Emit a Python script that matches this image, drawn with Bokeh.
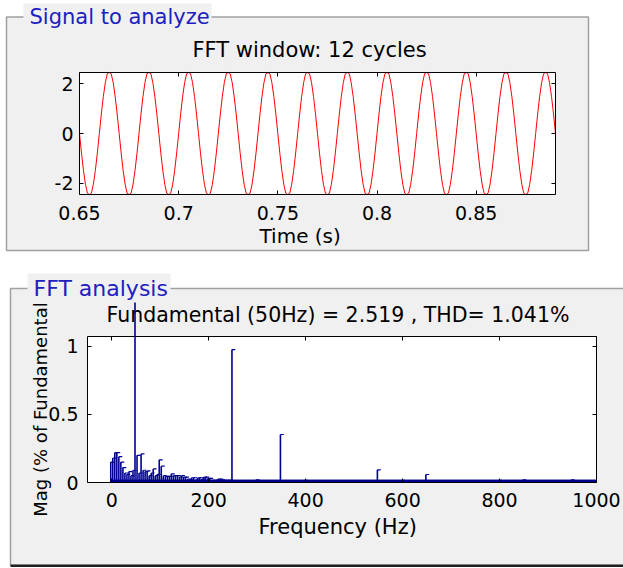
import math
from bokeh.plotting import figure
from bokeh.models import (LinearAxis, FixedTicker, Range1d, Label, BoxAnnotation,
                          ColumnDataSource, PrintfTickFormatter)
from bokeh.layouts import column
from bokeh.embed import file_html
from bokeh.resources import INLINE

# ---------------- data ----------------
# one cycle of the analysed signal, 20 samples (1 ms apart)
signal_cycle = [0.0, -0.78, -1.48, -2.04, -2.40, -2.52, -2.40, -2.04, -1.48, -0.78,
                0.0, 0.78, 1.48, 2.04, 2.40, 2.52, 2.40, 2.04, 1.48, 0.78]
n_cycles = 12
t_start = 0.65
t_step = 0.001
time_lim = (0.65, 0.89)
signal_lim = (-2.45, 2.45)
time_ticks = [0.65, 0.7, 0.75, 0.8, 0.85]
signal_ticks = [-2, 0, 2]

# FFT bins (resolution 50/12 Hz) from 0 Hz to ~246 Hz, % of fundamental
bin_step = 50.0 / 12.0
low_bin_mags = [0.15, 0.18, 0.22, 0.22, 0.19, 0.15, 0.11, 0.07, 0.06, 0.08,
                0.05, 0.09, 100.0, 0.20, 0.07, 0.21, 0.09, 0.08, 0.085, 0.05,
                0.07, 0.10, 0.05, 0.06, 0.167, 0.12, 0.05, 0.045, 0.045, 0.045,
                0.064, 0.05, 0.05, 0.05, 0.04, 0.05, 0.04, 0.04, 0.025, 0.02,
                0.035, 0.035, 0.02, 0.035, 0.035, 0.025, 0.04, 0.04, 0.03, 0.03,
                0.015, 0.015, 0.015, 0.025, 0.025, 0.02, 0.015, 0.015, 0.015, 0.015]
harm_freqs = [250, 300, 350, 400, 550, 600, 650, 800, 850, 950]
harm_mags = [0.977, 0.02, 0.353, 0.015, 0.093, 0.015, 0.059, 0.015, 0.02, 0.02]
fund_freq = 50
noise_floor = 0.018
freq_lim = (-50, 1000)
mag_lim = (0, 1.0735)
freq_ticks = [0, 200, 400, 600, 800, 1000]
mag_ticks = [0, 0.5, 1]

group_top = "Signal to analyze"
group_bottom = "FFT analysis"
title_top = "FFT window: 12 cycles"
title_bottom = "Fundamental (50Hz) = 2.519 , THD= 1.041%"
xlabel_top = "Time (s)"
xlabel_bottom = "Frequency (Hz)"
ylabel_bottom = "Mag (% of Fundamental"

# ---------------- styling ----------------
W = 623
H1, H2 = 268, 300
FONT = "DejaVu Sans"
GRAY = "#f0f0f0"
EDGE = "#a0a0a0"
BLUE_TXT = "#2020c0"
BAR = "#00008f"
TICK_FS = "19px"
TXT_FS = "20px"
TITLE_FS = "21px"
GRP_FS = "21px"
DY = -7  # baseline correction for labels


class Mapper:
    """pixel <-> data for a figure whose frame is the whole canvas."""
    def __init__(self, box_px, xr, yr):
        self.fl, self.fr, self.ft, self.fb = box_px
        self.xr, self.yr = xr, yr

    def x(self, px):
        x0, x1 = self.xr
        return x0 + (px - self.fl) * (x1 - x0) / (self.fr - self.fl)

    def y(self, py):
        y0, y1 = self.yr
        return y0 + (self.fb - py) * (y1 - y0) / (self.fb - self.ft)


def make_fig(h, m):
    p = figure(width=W, height=h,
               x_range=Range1d(m.x(0), m.x(W)), y_range=Range1d(m.y(h), m.y(0)),
               x_axis_type=None, y_axis_type=None,
               min_border=0, output_backend="svg", toolbar_location=None, tools="")
    p.border_fill_color = "white"
    p.background_fill_color = "white"
    p.outline_line_color = None
    p.xgrid.visible = False
    p.ygrid.visible = False
    return p


def add_axis(p, side, ticks, loc, bounds, standoff, show_labels):
    ax = LinearAxis(fixed_location=loc, bounds=bounds)
    ax.ticker = FixedTicker(ticks=ticks)
    ax.formatter = PrintfTickFormatter(format="%g")
    ax.major_tick_in = 4
    ax.major_tick_out = 0
    ax.minor_tick_line_color = None
    ax.axis_line_color = "black"
    ax.axis_line_width = 1
    ax.major_tick_line_color = "black"
    ax.major_label_standoff = standoff
    ax.major_label_text_font = FONT
    ax.major_label_text_font_size = TICK_FS
    ax.major_label_text_color = "black" if show_labels else None
    p.add_layout(ax, side)
    return ax


def box_axes(p, m, xticks, yticks, xstand, ystand):
    add_axis(p, "below", xticks, m.yr[0], m.xr, xstand, True)
    add_axis(p, "left", yticks, m.xr[0], m.yr, ystand, True)
    add_axis(p, "above", xticks, m.yr[1], m.xr, 2, False)
    add_axis(p, "right", yticks, m.xr[1], m.yr, 2, False)


def box(p, m, l, r, t, b, fill=None, line=None, lw=1, level="underlay"):
    ba = BoxAnnotation(left=m.x(l), right=m.x(r), top=m.y(t), bottom=m.y(b),
                       fill_color=fill, fill_alpha=1.0 if fill else 0.0,
                       line_color=line, line_width=lw, line_alpha=1.0 if line else 0.0,
                       level=level)
    p.add_layout(ba)
    return ba


def label(p, m, px, py, text, color="black", size=TXT_FS, align="left",
          baseline="alphabetic", angle=0.0):
    p.add_layout(Label(x=m.x(px), y=m.y(py), text=text, text_color=color,
                       text_font=FONT, text_font_size=size, text_align=align,
                       text_baseline=baseline, angle=angle))


# ================= top panel =================
m1 = Mapper((79, 555, 72, 194), time_lim, signal_lim)
p1 = make_fig(H1, m1)

box(p1, m1, 6, 588, 16.5, 250, fill=GRAY, line=EDGE, lw=1.5)
box(p1, m1, m1.fl, m1.fr, m1.ft, m1.fb, fill="white")
box(p1, m1, 23, 211, 3, 28, fill=GRAY)

n_samp = len(signal_cycle) * n_cycles
times = [t_start + i * t_step for i in range(n_samp + 1)]
values = signal_cycle * n_cycles + [signal_cycle[0]]
shown = [min(max(v, signal_lim[0]), signal_lim[1]) for v in values]  # axes clipping
p1.line(times, shown, line_color="red", line_width=1)

box_axes(p1, m1, time_ticks, signal_ticks, 11, 6)

label(p1, m1, 29, 23.5 + DY, group_top, color=BLUE_TXT, size=GRP_FS)
label(p1, m1, 192, 56 + DY, title_top, size=TITLE_FS)
label(p1, m1, 259, 242 + DY, xlabel_top)

# ================= bottom panel =================
m2 = Mapper((87, 596, 68, 214), freq_lim, mag_lim)
p2 = make_fig(H2, m2)

box(p2, m2, 10, 640, 20, 297, fill=GRAY, line=EDGE, lw=1.5)
box(p2, m2, 10, 640, 296, 298.5, fill="#202020")
box(p2, m2, m2.fl, m2.fr, m2.ft, m2.fb, fill="white")
box(p2, m2, 27, 170, 5, 29, fill=GRAY)

freqs = [k * bin_step for k in range(len(low_bin_mags))] + harm_freqs
mags = low_bin_mags + harm_mags
stem_off = -2.0
cap_len = 7.0
shown_mags = [min(v, mag_lim[1]) for v in mags]
src = ColumnDataSource(dict(
    x=[f + stem_off for f in freqs],
    x1=[f + stem_off + cap_len for f in freqs],
    y=shown_mags,
    y0=[0.0] * len(mags),
    cap_alpha=[0.0 if v > mag_lim[1] else 1.0 for v in mags],
))
p2.quad(left=[0], right=[freq_lim[1]], bottom=[0], top=[noise_floor],
        fill_color=BAR, line_color=BAR, line_width=1)
p2.segment(x0="x", y0="y0", x1="x", y1="y", source=src, line_color=BAR, line_width=1.6)
p2.segment(x0="x", y0="y", x1="x1", y1="y", source=src, line_color=BAR, line_width=1.2,
           line_alpha="cap_alpha")

box_axes(p2, m2, freq_ticks, mag_ticks, 10, 9)

label(p2, m2, 33, 27 + DY, group_bottom, color=BLUE_TXT, size="22px")
label(p2, m2, 106, 53.7 + DY, title_bottom, size="20.5px")
label(p2, m2, 258, 265 + DY, xlabel_bottom, size=TITLE_FS)
label(p2, m2, 40, 141, ylabel_bottom, size="18px", align="center", baseline="middle",
      angle=math.pi / 2)

# the fundamental bar (100 % of itself) runs on above the axes box
fund_top = m2.y(34)
fund_x = fund_freq + stem_off
half_w = 0.8 * (m2.xr[1] - m2.xr[0]) / (m2.fr - m2.fl)
p2.add_layout(BoxAnnotation(left=fund_x - half_w, right=fund_x + half_w,
                            bottom=mag_lim[1], top=min(100.0, fund_top),
                            fill_color=BAR, fill_alpha=1.0, line_alpha=0.0,
                            level="annotation"))

layout = column(p1, p2, spacing=0)
open("out.html", "w").write(file_html(layout, INLINE))
